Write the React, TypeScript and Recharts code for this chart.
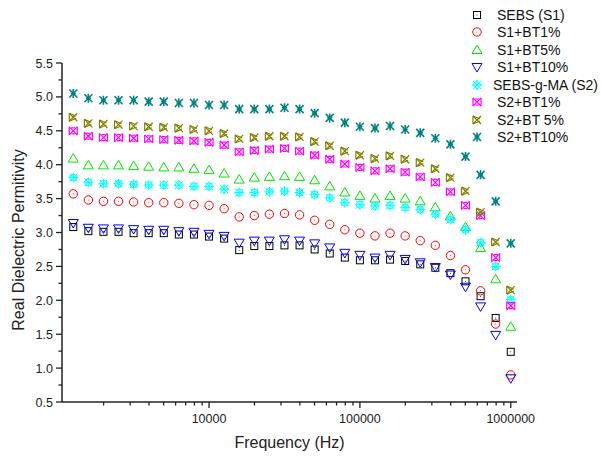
import { ScatterChart, Scatter, XAxis, YAxis, Legend, Label } from 'recharts';

// measurement frequencies (Hz), 10 points per decade
const freqs = [
  1259, 1585, 1995, 2512, 3162, 3981, 5012, 6310, 7943, 10000,
  12589, 15849, 19953, 25119, 31623, 39811, 50119, 63096, 79433, 100000,
  125893, 158489, 199526, 251189, 316228, 398107, 501187, 630957, 794328, 1000000,
];

const sebs = [
  3.08, 3.02, 3.01, 3.01, 2.99, 2.99, 2.99, 2.97, 2.97, 2.94,
  2.91, 2.74, 2.8, 2.8, 2.81, 2.81, 2.75, 2.69, 2.63, 2.59,
  2.59, 2.6, 2.58, 2.53, 2.48, 2.4, 2.28, 2.06, 1.74, 1.24,
];
const s1bt1 = [
  3.57, 3.48, 3.46, 3.46, 3.45, 3.44, 3.44, 3.43, 3.41, 3.4,
  3.35, 3.23, 3.25, 3.27, 3.28, 3.26, 3.18, 3.12, 3.04, 2.99,
  2.95, 2.99, 2.95, 2.88, 2.81, 2.66, 2.45, 2.14, 1.65, 0.9,
];
const s1bt5 = [
  4.09, 3.99, 3.99, 3.99, 3.98, 3.97, 3.96, 3.96, 3.94, 3.92,
  3.87, 3.78, 3.81, 3.82, 3.83, 3.82, 3.77, 3.68, 3.59, 3.54,
  3.5, 3.54, 3.5, 3.46, 3.37, 3.24, 3.08, 2.77, 2.31, 1.61,
];
const s1bt10 = [
  3.14, 3.07, 3.06, 3.06, 3.05, 3.04, 3.04, 3.02, 3.01, 2.98,
  2.95, 2.85, 2.88, 2.88, 2.9, 2.88, 2.84, 2.78, 2.7, 2.67,
  2.63, 2.67, 2.61, 2.56, 2.49, 2.38, 2.2, 1.91, 1.49, 0.85,
];
const sebsgma = [
  3.81, 3.74, 3.72, 3.72, 3.71, 3.7, 3.7, 3.7, 3.68, 3.68,
  3.64, 3.59, 3.59, 3.6, 3.61, 3.59, 3.56, 3.51, 3.44, 3.41,
  3.39, 3.4, 3.37, 3.34, 3.27, 3.19, 3.04, 2.85, 2.5, 2.01,
];
const s2bt1 = [
  4.5, 4.42, 4.4, 4.4, 4.39, 4.38, 4.37, 4.36, 4.35, 4.33,
  4.29, 4.19, 4.21, 4.23, 4.24, 4.2, 4.14, 4.08, 4.01, 3.96,
  3.91, 3.94, 3.89, 3.82, 3.74, 3.6, 3.4, 3.25, 2.63, 1.92,
];
const s2bt5 = [
  4.7, 4.61, 4.6, 4.59, 4.57, 4.56, 4.55, 4.54, 4.52, 4.5,
  4.46, 4.38, 4.4, 4.42, 4.42, 4.41, 4.34, 4.28, 4.2, 4.14,
  4.09, 4.13, 4.08, 4.03, 3.94, 3.81, 3.61, 3.3, 2.86, 2.15,
];
const s2bt10 = [
  5.05, 4.98, 4.95, 4.95, 4.95, 4.93, 4.93, 4.91, 4.91, 4.88,
  4.88, 4.82, 4.82, 4.82, 4.84, 4.82, 4.76, 4.69, 4.62, 4.56,
  4.54, 4.57, 4.52, 4.47, 4.39, 4.3, 4.12, 3.85, 3.46, 2.84,
];

const xTicks = [
  2000, 3000, 4000, 5000, 6000, 7000, 8000, 9000, 10000,
  20000, 30000, 40000, 50000, 60000, 70000, 80000, 90000, 100000,
  200000, 300000, 400000, 500000, 600000, 700000, 800000, 900000, 1000000,
];
const xMajor = [10000, 100000, 1000000];
const yTicks = [
  0.5, 0.75, 1, 1.25, 1.5, 1.75, 2, 2.25, 2.5, 2.75, 3, 3.25,
  3.5, 3.75, 4, 4.25, 4.5, 4.75, 5, 5.25, 5.5,
];

const series = [
  { name: 'SEBS (S1)', values: sebs, color: '#000000', kind: 'square' },
  { name: 'S1+BT1%', values: s1bt1, color: '#ff0000', kind: 'circle' },
  { name: 'S1+BT5%', values: s1bt5, color: '#00e600', kind: 'triUp' },
  { name: 'S1+BT10%', values: s1bt10, color: '#0000ff', kind: 'triDown' },
  { name: 'SEBS-g-MA (S2)', values: sebsgma, color: '#00ffff', kind: 'hatch' },
  { name: 'S2+BT1%', values: s2bt1, color: '#ff00ff', kind: 'bowtie' },
  { name: 'S2+BT 5%', values: s2bt5, color: '#808000', kind: 'hourglass' },
  { name: 'S2+BT10%', values: s2bt10, color: '#008080', kind: 'star' },
];

const FONT = '"Liberation Sans", Arial, sans-serif';
const AXIS = '#222';

function Marker({ cx, cy, kind, color }: { cx: number; cy: number; kind: string; color: string }) {
  const s = { fill: 'none', stroke: color, strokeWidth: 1 };
  switch (kind) {
    case 'square':
      return (
        <g>
          <rect x={cx - 3.5} y={cy - 3.5} width={7} height={7} {...s} />
          <circle cx={cx} cy={cy} r={0.5} fill={color} />
        </g>
      );
    case 'circle':
      return (
        <g>
          <circle cx={cx} cy={cy} r={4.2} {...s} />
          <circle cx={cx} cy={cy} r={0.5} fill={color} />
        </g>
      );
    case 'triUp':
      return <path d={`M${cx},${cy - 5}L${cx + 5},${cy + 3.5}L${cx - 5},${cy + 3.5}Z`} {...s} />;
    case 'triDown':
      return <path d={`M${cx},${cy + 5}L${cx + 5},${cy - 3.5}L${cx - 5},${cy - 3.5}Z`} {...s} />;
    case 'hatch':
      return (
        <g {...s}>
          <path d={`M${cx - 4},${cy - 4}L${cx + 4},${cy + 4}M${cx - 4},${cy + 4}L${cx + 4},${cy - 4}`} />
          <path d={`M${cx - 5},${cy}L${cx + 5},${cy}M${cx},${cy - 5}L${cx},${cy + 5}`} />
          <circle cx={cx} cy={cy} r={3.5} />
        </g>
      );
    case 'bowtie':
      return (
        <g {...s} strokeWidth={1.2}>
          <path d={`M${cx - 4},${cy - 4}L${cx + 4},${cy + 4}M${cx - 4},${cy + 4}L${cx + 4},${cy - 4}`} />
          <path d={`M${cx - 4},${cy - 4}L${cx - 4},${cy + 4}M${cx + 4},${cy - 4}L${cx + 4},${cy + 4}`} />
          <path d={`M${cx - 2},${cy - 3}L${cx + 2},${cy - 3}M${cx - 2},${cy + 3}L${cx + 2},${cy + 3}`} />
        </g>
      );
    case 'hourglass':
      return (
        <g {...s} strokeWidth={1.2}>
          <path d={`M${cx - 4},${cy - 4}L${cx + 4},${cy + 4}M${cx - 4},${cy + 4}L${cx + 4},${cy - 4}`} />
          <path d={`M${cx - 4},${cy - 4}L${cx - 4},${cy + 4}M${cx - 4},${cy - 4}L${cx + 3},${cy - 1}M${cx - 4},${cy + 4}L${cx + 3},${cy + 1}`} />
        </g>
      );
    default:
      return (
        <g {...s} strokeWidth={1.6}>
          <path d={`M${cx - 4},${cy - 4}L${cx + 4},${cy + 4}M${cx - 4},${cy + 4}L${cx + 4},${cy - 4}`} />
          <path d={`M${cx},${cy - 4.5}L${cx},${cy + 4.5}M${cx - 2.5},${cy}L${cx + 2.5},${cy}`} />
        </g>
      );
  }
}

function XTick({ x, y, payload }: any) {
  const major = xMajor.includes(payload.value);
  return (
    <g>
      <line x1={x} y1={y} x2={x} y2={y + (major ? 6 : 3.5)} stroke={AXIS} strokeWidth={1.3} />
      {major && (
        <text x={x} y={y + 21} textAnchor="middle" fontSize={12.5} fontFamily={FONT} fill={AXIS}>
          {payload.value}
        </text>
      )}
    </g>
  );
}

function YTick({ x, y, payload }: any) {
  const major = Math.abs(payload.value * 2 - Math.round(payload.value * 2)) < 1e-6;
  return (
    <g>
      <line x1={x} y1={y} x2={x - (major ? 6 : 3.5)} y2={y} stroke={AXIS} strokeWidth={1.3} />
      {major && (
        <text x={x - 9} y={y + 4.5} textAnchor="end" fontSize={12.5} fontFamily={FONT} fill={AXIS}>
          {payload.value.toFixed(1)}
        </text>
      )}
    </g>
  );
}

function YTitle() {
  return (
    <text x={24} y={240} transform="rotate(-90, 24, 240)" textAnchor="middle" fontSize={16} fontFamily={FONT} fill={AXIS}>
      Real Dielectric Permitivity
    </text>
  );
}

function LegendBox() {
  return (
    <div style={{ fontFamily: FONT, fontSize: 14, color: '#111' }}>
      {series.map((s) => (
        <div key={s.name} style={{ display: 'flex', alignItems: 'center', height: 17.5 }}>
          <svg width={16} height={16} style={{ marginRight: s.name.startsWith('SEBS-g') ? 8 : 12 }}>
            <Marker cx={8} cy={8} kind={s.kind} color={s.color} />
          </svg>
          <span>{s.name}</span>
        </div>
      ))}
    </div>
  );
}

export default function App() {
  return (
    <div style={{ position: 'absolute', left: 0, top: 0, background: '#fff' }}>
      <ScatterChart width={601} height={456} margin={{ top: 63, right: 84, bottom: 0, left: 0 }}>
        <XAxis
          type="number"
          dataKey="f"
          scale="log"
          domain={[1060, 1100000]}
          allowDataOverflow
          ticks={xTicks}
          interval={0}
          tick={<XTick />}
          tickLine={false}
          tickSize={0}
          tickMargin={0}
          height={54}
          axisLine={{ stroke: AXIS, strokeWidth: 1.5 }}
        >
          <Label value="Frequency (Hz)" position="insideBottom" offset={8} fontSize={16} fontFamily={FONT} fill={AXIS} />
        </XAxis>
        <YAxis
          type="number"
          dataKey="v"
          domain={[0.5, 5.5]}
          allowDataOverflow
          ticks={yTicks}
          interval={0}
          tick={<YTick />}
          tickLine={false}
          tickSize={0}
          tickMargin={0}
          width={62}
          axisLine={{ stroke: AXIS, strokeWidth: 1.5 }}
        >
          <Label content={<YTitle />} />
        </YAxis>
        <Legend
          layout="vertical"
          align="center"
          verticalAlign="middle"
          content={<LegendBox />}
          wrapperStyle={{ left: 469, top: 6, width: 132 }}
        />
        {series.map((s) => (
          <Scatter
            key={s.name}
            name={s.name}
            data={freqs.map((f, i) => ({ f, v: s.values[i] }))}
            fill={s.color}
            isAnimationActive={false}
            shape={(p: any) => <Marker cx={p.cx} cy={p.cy} kind={s.kind} color={s.color} />}
          />
        ))}
      </ScatterChart>
    </div>
  );
}
